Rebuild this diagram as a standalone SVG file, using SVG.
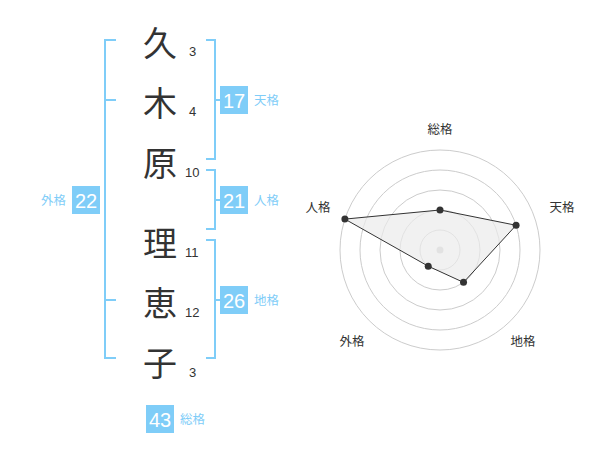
<svg xmlns="http://www.w3.org/2000/svg" width="600" height="470" viewBox="0 0 600 470">
<style>
.ch{font-family:"Noto Sans CJK JP","Noto Sans CJK SC",sans-serif;font-size:34px;fill:#333;text-anchor:middle}
.num{font-family:"Liberation Sans",Arial,sans-serif;font-size:13px;fill:#333}
.br{fill:none;stroke:#7fcdf8;stroke-width:2}
.box{fill:#7fcdf8}
.bn{font-family:"Liberation Sans",Arial,sans-serif;font-size:20px;fill:#fff;text-anchor:middle}
.bl{font-family:"Noto Sans CJK JP","Noto Sans CJK SC",sans-serif;font-size:12.5px;fill:#7fcdf8}
.rl{font-family:"Noto Sans CJK JP","Noto Sans CJK SC",sans-serif;font-size:12.5px;fill:#333;text-anchor:middle}
.ring{fill:none;stroke:#ccc;stroke-width:1}
.pt{fill:#333}
</style>
<rect width="600" height="470" fill="#fff"/>
<g id="chars">
<text class="ch" x="160" y="56">久</text>
<text class="ch" x="160" y="116">木</text>
<text class="ch" x="160" y="176">原</text>
<text class="ch" x="160" y="256">理</text>
<text class="ch" x="160" y="316">恵</text>
<text class="ch" x="160" y="376">子</text>
<text class="num" x="189" y="56">3</text>
<text class="num" x="189" y="116">4</text>
<text class="num" x="185" y="177">10</text>
<text class="num" x="185" y="257">11</text>
<text class="num" x="185" y="317">12</text>
<text class="num" x="189" y="377">3</text>
</g>
<g id="connectors">
<path class="br" d="M116,40H105V358H116M105,100H116M105,300H116"/>
<path class="br" d="M206,40H215V159H206M215,100H222"/>
<path class="br" d="M206,170H215V229H206M215,200H222"/>
<path class="br" d="M206,240H215V358H206M215,300H222"/>
</g>
<g id="tenkaku">
<rect class="box" x="220" y="86" width="28" height="28"/>
<text class="bn" x="234" y="107.5">17</text>
<text class="bl" x="254" y="105">天格</text>
</g>
<g id="jinkaku">
<rect class="box" x="220" y="186" width="28" height="28"/>
<text class="bn" x="234" y="207.5">21</text>
<text class="bl" x="254" y="205">人格</text>
</g>
<g id="chikaku">
<rect class="box" x="220" y="286" width="28" height="28"/>
<text class="bn" x="234" y="307.5">26</text>
<text class="bl" x="254" y="305">地格</text>
</g>
<g id="gaikaku">
<rect class="box" x="72" y="186" width="28" height="28"/>
<text class="bn" x="86" y="207.5">22</text>
<text class="bl" x="66" y="205" text-anchor="end">外格</text>
</g>
<g id="soukaku">
<rect class="box" x="146" y="405" width="28" height="28"/>
<text class="bn" x="160" y="426.5">43</text>
<text class="bl" x="180" y="424">総格</text>
</g>
<g id="radar">
<circle class="ring" cx="440" cy="250" r="20"/>
<circle class="ring" cx="440" cy="250" r="40"/>
<circle class="ring" cx="440" cy="250" r="60"/>
<circle class="ring" cx="440" cy="250" r="80"/>
<circle class="ring" cx="440" cy="250" r="100"/>
<circle cx="440" cy="250" r="3.5" fill="#ccc"/>
<polygon points="440,210 516.08,225.28 463.51,282.36 428.24,266.18 344.89,219.1" fill="#ebebeb" fill-opacity="0.7" stroke="#333" stroke-width="1"/>
<circle class="pt" cx="440" cy="210" r="3.5"/>
<circle class="pt" cx="516.08" cy="225.28" r="3.5"/>
<circle class="pt" cx="463.51" cy="282.36" r="3.5"/>
<circle class="pt" cx="428.24" cy="266.18" r="3.5"/>
<circle class="pt" cx="344.89" cy="219.1" r="3.5"/>
<text class="rl" x="440" y="134">総格</text>
<text class="rl" x="562" y="212">天格</text>
<text class="rl" x="523" y="346">地格</text>
<text class="rl" x="352" y="346">外格</text>
<text class="rl" x="318" y="212">人格</text>
</g>
</svg>
